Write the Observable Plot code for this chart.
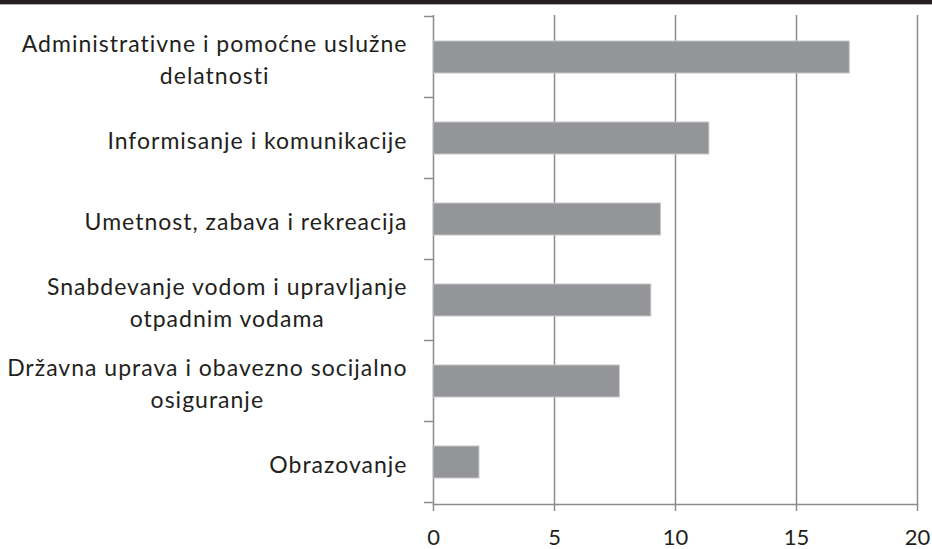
<!DOCTYPE html>
<html><head><meta charset="utf-8">
<script src="https://cdn.jsdelivr.net/npm/d3@7"></script>
<script src="https://cdn.jsdelivr.net/npm/@observablehq/plot@0.6"></script>
<style>
body{margin:0;background:#fff;width:932px;height:549px;overflow:hidden;font-family:Lato,sans-serif}
#band{height:4px;background:#231f20;border-bottom:1px solid #b0b0b0}
#chart svg{display:block}
g[aria-label="y-axis tick label"] text{letter-spacing:1px}
</style></head><body><div id="band"></div><div id="chart"></div>
<script>
const categories = [
  "Administrativne i pomoćne uslužne\ndelatnosti",
  "Informisanje i komunikacije",
  "Umetnost, zabava i rekreacija",
  "Snabdevanje vodom i upravljanje\notpadnim vodama",
  "Državna uprava i obavezno socijalno\nosiguranje",
  "Obrazovanje"
];
const values = [17.2, 11.4, 9.4, 9.0, 7.7, 1.9];
const xTicks = [0, 5, 10, 15, 20];

const data = categories.map((c, i) => ({category: c, value: values[i]}));

function boundaryTicks(index, scales, channels, dimensions) {
  const y = scales.y, x = scales.x;
  const step = y.step();
  const bw = y.bandwidth();
  const x0 = x(0);
  const g = d3.create("svg:g").attr("aria-label", "y-boundary-ticks");
  const ys = categories.map(c => y(c) - (step - bw) / 2);
  ys.push(y(categories[categories.length - 1]) + bw + (step - bw) / 2);
  for (const yy of ys) {
    g.append("line").attr("x1", x0 - 9).attr("x2", x0).attr("y1", yy).attr("y2", yy)
      .attr("stroke", "#8c8c8c").attr("stroke-width", 1.5);
  }
  return g.node();
}

const plot = Plot.plot({
  width: 932, height: 544,
  marginTop: 10, marginBottom: 45, marginLeft: 433, marginRight: 15,
  style: {fontFamily: "Lato, sans-serif", fontSize: "23px", color: "#231f20", background: "transparent"},
  x: {domain: [0, 20], ticks: xTicks},
  y: {domain: categories, paddingInner: 0.6, paddingOuter: 0.3},
  marks: [
    Plot.gridX(xTicks, {stroke: "#8c8c8c", strokeOpacity: 1, strokeWidth: 1.5}),
    Plot.barX(data, {x: "value", y: "category", fill: "#939598", stroke: "#c6c6c8", strokeWidth: 1}),
    Plot.frame({anchor: "bottom", stroke: "#8c8c8c", strokeWidth: 1.5}),
    Plot.axisX(xTicks, {tickSize: 7, tickPadding: 18, stroke: "#8c8c8c", strokeWidth: 1.5, label: null, fontSize: 22}),
    Plot.axisY({tickSize: 0, tickPadding: 26, lineHeight: 1.4, label: null}),
    boundaryTicks
  ]
});
document.getElementById("chart").appendChild(plot);

// center multi-line category labels within their block (right edge stays aligned)
plot.querySelectorAll('g[aria-label="y-axis tick label"] text').forEach(t => {
  const spans = t.querySelectorAll("tspan");
  if (spans.length > 1) {
    let w = 0;
    spans.forEach(s => { w = Math.max(w, s.getComputedTextLength()); });
    t.setAttribute("text-anchor", "middle");
    t.setAttribute("transform", (t.getAttribute("transform") || "") + ` translate(${-w / 2},0)`);
  }
});
</script></body></html>
